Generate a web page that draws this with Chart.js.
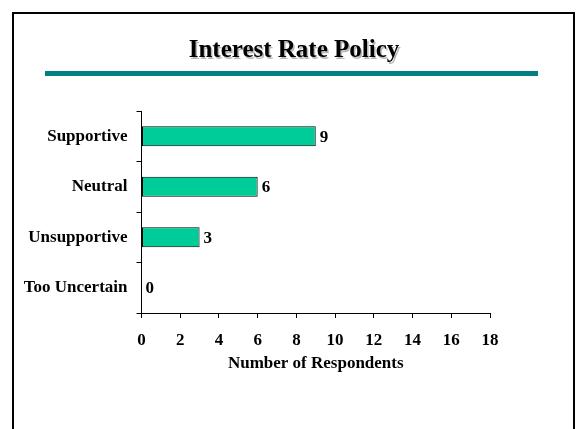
<!DOCTYPE html>
<html>
<head>
<meta charset="utf-8">
<script src="https://cdn.jsdelivr.net/npm/chart.js@4/dist/chart.umd.min.js"></script>
<style>
  html, body { margin: 0; padding: 0; background: #fff; }
  canvas { display: block; }
</style>
</head>
<body>
<canvas id="c" width="576" height="429"></canvas>
<script>
// Survey responses on interest rate policy
const chartTitle = 'Interest Rate Policy';
const categories = ['Supportive', 'Neutral', 'Unsupportive', 'Too Uncertain'];
const respondents = [9, 6, 3, 0];
const xTicks = [0, 2, 4, 6, 8, 10, 12, 14, 16, 18];
const xAxisTitle = 'Number of Respondents';

const SERIF = '"Liberation Serif", "Times New Roman", Times, serif';

// Slide frame, title with soft shadow and the teal rule under it
const slideDecor = {
  id: 'slideDecor',
  beforeDraw(chart) {
    const ctx = chart.ctx;
    ctx.save();
    ctx.fillStyle = '#ffffff';
    ctx.fillRect(0, 0, chart.width, chart.height);
    ctx.strokeStyle = '#000000';
    ctx.lineWidth = 2;
    ctx.strokeRect(13, 13, 561, 500);
    ctx.font = 'bold 25px ' + SERIF;
    ctx.textAlign = 'center';
    ctx.textBaseline = 'alphabetic';
    ctx.fillStyle = '#b8b8b8';
    ctx.fillText(chartTitle, 295.5, 58.5);
    ctx.fillStyle = '#000000';
    ctx.fillText(chartTitle, 294, 57);
    ctx.fillStyle = '#008080';
    ctx.fillRect(45, 71, 493, 5);
    ctx.restore();
  }
};

// Value labels just past the end of each bar
const valueLabels = {
  id: 'valueLabels',
  afterDatasetsDraw(chart) {
    const ctx = chart.ctx;
    const ds = chart.data.datasets[0];
    const meta = chart.getDatasetMeta(0);
    ctx.save();
    ctx.font = 'bold 17px ' + SERIF;
    ctx.fillStyle = '#000000';
    ctx.textAlign = 'left';
    ctx.textBaseline = 'middle';
    meta.data.forEach((bar, i) => {
      ctx.fillText(String(ds.data[i]), bar.x + 4, bar.y + 1);
    });
    ctx.restore();
  }
};

new Chart(document.getElementById('c'), {
  type: 'bar',
  data: {
    labels: categories,
    datasets: [{
      data: respondents,
      backgroundColor: '#00CC99',
      borderColor: '#000000',
      borderWidth: 1,
      borderSkipped: false,
      categoryPercentage: 0.8,
      barPercentage: 0.5
    }]
  },
  options: {
    indexAxis: 'y',
    responsive: false,
    devicePixelRatio: 1,
    animation: false,
    layout: { padding: { left: 0, top: 111, right: 86, bottom: 55 } },
    plugins: {
      legend: { display: false },
      title: { display: false },
      tooltip: { enabled: false }
    },
    scales: {
      x: {
        type: 'linear',
        min: 0,
        max: 18,
        afterBuildTicks(scale) {
          scale.ticks = xTicks.map(v => ({ value: v }));
        },
        afterFit(scale) { scale.height = 61; },
        border: { display: true, color: '#000000', width: 1 },
        grid: { drawOnChartArea: false, drawTicks: true, tickLength: 5, color: '#000000' },
        ticks: {
          color: '#000000',
          font: { family: SERIF, size: 17, weight: 'bold' },
          padding: 12,
          maxRotation: 0
        },
        title: {
          display: true,
          text: xAxisTitle,
          color: '#000000',
          font: { family: SERIF, size: 17, weight: 'bold' },
          padding: { top: 0, bottom: 0 }
        }
      },
      y: {
        afterFit(scale) { scale.width = 141.5; },
        border: { display: true, color: '#000000', width: 1 },
        grid: { drawOnChartArea: false, drawTicks: true, tickLength: 5, color: '#000000', offset: true },
        ticks: {
          color: '#000000',
          font: { family: SERIF, size: 17, weight: 'bold' },
          padding: 9
        }
      }
    }
  },
  plugins: [slideDecor, valueLabels]
});
</script>
</body>
</html>
